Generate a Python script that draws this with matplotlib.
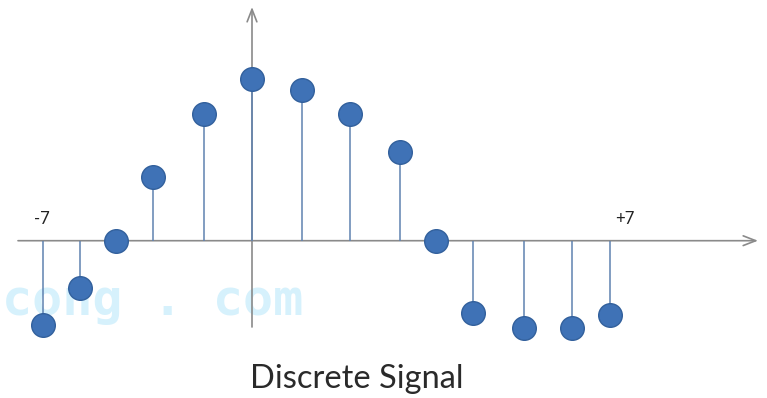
import matplotlib
matplotlib.use("Agg")
import matplotlib.pyplot as plt

# sample positions (relative to vertical axis) and amplitudes
positions = [-4.18, -3.44, -2.72, -1.98, -0.96, 0.0, 1.0, 1.96, 2.96, 3.68, 4.42, 5.44, 6.4, 7.16]
values = [-1.68, -0.94, 0.0, 1.28, 2.54, 3.24, 3.02, 2.54, 1.78, 0.0, -1.44, -1.74, -1.74, -1.48]
end_labels = ["-7", "+7"]
title = "Discrete Signal"
watermark = "cong . com"

W, H = 767, 398
fig = plt.figure(figsize=(W / 100, H / 100), dpi=100)
ax = fig.add_axes([0, 0, 1, 1])
sx = 50.0
x0, y0 = 252.0, 240.7
ax.set_xlim(-x0 / sx, (W - x0) / sx)
ax.set_ylim((y0 - H) / sx, y0 / sx)
ax.axis("off")

def px(p):
    return (p - x0) / sx

def py(p):
    return (y0 - p) / sx

# watermark
ax.text(px(2), py(315), watermark, family="DejaVu Sans Mono", fontsize=36,
        fontweight="bold", color="#d6f1fc", ha="left", va="baseline", zorder=0)

axis_col = "#8a8a8a"
# horizontal axis with arrow
ax.annotate("", xy=(px(758), 0), xytext=(px(18), 0),
            arrowprops=dict(arrowstyle="->,head_length=0.9,head_width=0.35",
                            color=axis_col, lw=1.2, shrinkA=0, shrinkB=0), zorder=1)
# vertical axis with arrow
ax.annotate("", xy=(0, py(7)), xytext=(0, py(327)),
            arrowprops=dict(arrowstyle="->,head_length=0.9,head_width=0.35",
                            color=axis_col, lw=1.2, shrinkA=0, shrinkB=0), zorder=1)

# stems
ml, sl, bl = ax.stem(positions, values, basefmt=" ")
plt.setp(sl, color="#5f82b0", linewidth=1.1, zorder=2)
plt.setp(ml, marker="o", markersize=17, markerfacecolor="#3f72b6",
         markeredgecolor="#32609c", markeredgewidth=1.0, zorder=3)

ax.text(px(42), py(219), end_labels[0], fontsize=12, family="Lato",
        ha="center", va="center", color="#222222")
ax.text(px(625), py(219), end_labels[1], fontsize=12, family="Lato",
        ha="center", va="center", color="#222222")

ax.text(px(357), py(379), title, fontsize=23.5, family="Lato",
        ha="center", va="center", color="#2a2a2a")

fig.savefig("out.png", dpi=100)
